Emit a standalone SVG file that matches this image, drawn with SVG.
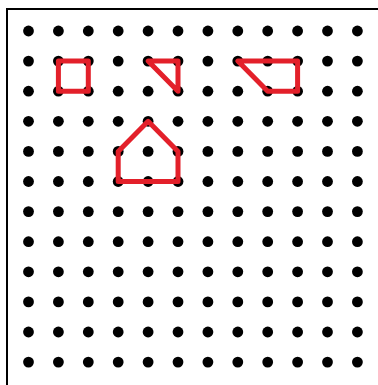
<svg xmlns="http://www.w3.org/2000/svg" width="378" height="385" viewBox="0 0 378 385">
<style>
.dot{fill:#000}
.shape{fill:none;stroke:#e3202a;stroke-width:5;stroke-linejoin:round;stroke-linecap:round}
.frame{stroke:#000;stroke-width:2;fill:none}
</style>
<defs>
<g id="row">
<circle class="dot" cx="28.5" cy="0" r="5.4"/><circle class="dot" cx="58.4" cy="0" r="5.4"/><circle class="dot" cx="88.3" cy="0" r="5.4"/><circle class="dot" cx="118.2" cy="0" r="5.4"/><circle class="dot" cx="148.1" cy="0" r="5.4"/><circle class="dot" cx="178" cy="0" r="5.4"/><circle class="dot" cx="207.9" cy="0" r="5.4"/><circle class="dot" cx="237.8" cy="0" r="5.4"/><circle class="dot" cx="267.7" cy="0" r="5.4"/><circle class="dot" cx="297.6" cy="0" r="5.4"/><circle class="dot" cx="327.5" cy="0" r="5.4"/><circle class="dot" cx="357.4" cy="0" r="5.4"/>
</g>
</defs>
<rect width="378" height="385" fill="#fff"/>
<path class="frame" d="M7,385 V9 H378"/>
<g id="grid">
<use href="#row" y="31"/><use href="#row" y="61.1"/><use href="#row" y="91.2"/><use href="#row" y="121.3"/><use href="#row" y="151.4"/><use href="#row" y="181.5"/><use href="#row" y="211.6"/><use href="#row" y="241.7"/><use href="#row" y="271.8"/><use href="#row" y="301.9"/><use href="#row" y="332"/><use href="#row" y="362.1"/>
</g>
<g id="square"><polygon class="shape" points="58.4,61.1 88.3,61.1 88.3,91.2 58.4,91.2"/></g>
<g id="triangle"><polygon class="shape" points="148.1,61.1 178,61.1 178,91.2"/></g>
<g id="trapezoid"><polygon class="shape" points="237.8,61.1 297.6,61.1 297.6,91.2 267.7,91.2"/></g>
<g id="house"><polygon class="shape" points="148.1,121.3 178,151.4 178,181.5 118.2,181.5 118.2,151.4"/></g>
<g id="connectors"></g>
</svg>
